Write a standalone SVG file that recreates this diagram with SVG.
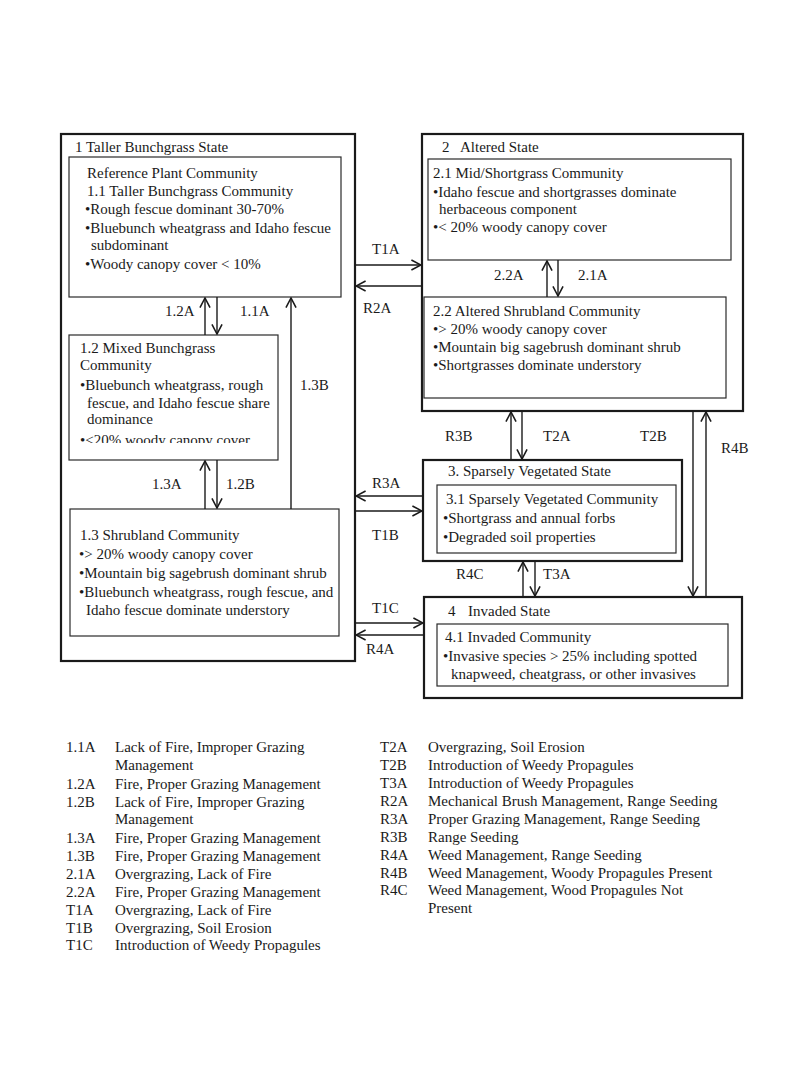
<svg xmlns="http://www.w3.org/2000/svg" width="800" height="1067" viewBox="0 0 800 1067">
<style>
text{font-family:"Liberation Serif","Times New Roman",serif;font-size:15px;fill:#1a1a1a}
.state{fill:none;stroke:#1a1a1a;stroke-width:2.2}
.comm{fill:#fff;stroke:#2a2a2a;stroke-width:1.2}
.con{fill:none;stroke:#1a1a1a;stroke-width:1.4}
</style>
<defs>
<marker id="ah" markerUnits="userSpaceOnUse" markerWidth="12" markerHeight="12" viewBox="0 0 10 10" refX="9" refY="5" orient="auto">
<path d="M1,0.8 L9,5 L1,9.2" fill="none" stroke="#1a1a1a" stroke-width="1.3"/>
</marker>
<clipPath id="clip12"><rect x="69" y="335" width="209" height="108"/></clipPath>
</defs>
<rect width="800" height="1067" fill="#fff"/>

<g id="state1">
<rect class="state" x="61" y="134" width="294" height="527"/>
<text x="75" y="152">1 Taller Bunchgrass State</text>
</g>
<g id="comm11">
<rect class="comm" x="69" y="157" width="272" height="140"/>
<text x="87" y="178">Reference Plant Community</text>
<text x="87" y="196">1.1 Taller Bunchgrass Community</text>
<text x="85" y="214">•Rough fescue dominant 30-70%</text>
<text x="85" y="233">•Bluebunch wheatgrass and Idaho fescue</text>
<text x="91" y="250">subdominant</text>
<text x="85" y="269">•Woody canopy cover &lt; 10%</text>
</g>
<g id="comm12">
<rect class="comm" x="69" y="335" width="209" height="125"/>
<text x="80" y="353">1.2 Mixed Bunchgrass</text>
<text x="80" y="370">Community</text>
<text x="80" y="390">•Bluebunch wheatgrass, rough</text>
<text x="87" y="408">fescue, and Idaho fescue share</text>
<text x="87" y="424">dominance</text>
<text x="80" y="445" clip-path="url(#clip12)">•&lt;20% woody canopy cover</text>
</g>
<g id="comm13">
<rect class="comm" x="70" y="509" width="269" height="127"/>
<text x="80" y="540">1.3 Shrubland Community</text>
<text x="79" y="559">•&gt; 20% woody canopy cover</text>
<text x="79" y="578">•Mountain big sagebrush dominant shrub</text>
<text x="79" y="597">•Bluebunch wheatgrass, rough fescue, and</text>
<text x="86" y="615">Idaho fescue dominate understory</text>
</g>

<g id="state2">
<rect class="state" x="422" y="134" width="321" height="277"/>
<text x="442" y="152">2</text>
<text x="460" y="152">Altered State</text>
</g>
<g id="comm21">
<rect class="comm" x="428" y="159" width="303" height="101"/>
<text x="433" y="178">2.1 Mid/Shortgrass Community</text>
<text x="433" y="197">•Idaho fescue and shortgrasses dominate</text>
<text x="439" y="214">herbaceous component</text>
<text x="433" y="232">•&lt; 20% woody canopy cover</text>
</g>
<g id="comm22">
<rect class="comm" x="424" y="297" width="302" height="101"/>
<text x="433" y="316">2.2 Altered Shrubland Community</text>
<text x="433" y="334">•&gt; 20% woody canopy cover</text>
<text x="433" y="352">•Mountain big sagebrush dominant shrub</text>
<text x="433" y="370">•Shortgrasses dominate understory</text>
</g>

<g id="state3">
<rect class="state" x="423" y="460" width="259" height="101"/>
<text x="448" y="476">3. Sparsely Vegetated State</text>
</g>
<g id="comm31">
<rect class="comm" x="437" y="485" width="239" height="68"/>
<text x="446" y="504">3.1 Sparsely Vegetated Community</text>
<text x="443" y="523">•Shortgrass and annual forbs</text>
<text x="443" y="542">•Degraded soil properties</text>
</g>

<g id="state4">
<rect class="state" x="424" y="597" width="318" height="101"/>
<text x="448" y="616">4</text>
<text x="468" y="616">Invaded State</text>
</g>
<g id="comm41">
<rect class="comm" x="437" y="624" width="291" height="62"/>
<text x="445" y="642">4.1 Invaded Community</text>
<text x="443" y="661">•Invasive species &gt; 25% including spotted</text>
<text x="451" y="679">knapweed, cheatgrass, or other invasives</text>
</g>

<g id="connectors">
<line class="con" x1="205" y1="335" x2="205" y2="298" marker-end="url(#ah)"/>
<line class="con" x1="217" y1="297" x2="217" y2="334" marker-end="url(#ah)"/>
<line class="con" x1="291" y1="509" x2="291" y2="298" marker-end="url(#ah)"/>
<line class="con" x1="205" y1="509" x2="205" y2="461" marker-end="url(#ah)"/>
<line class="con" x1="217" y1="460" x2="217" y2="508" marker-end="url(#ah)"/>
<line class="con" x1="547" y1="297" x2="547" y2="261" marker-end="url(#ah)"/>
<line class="con" x1="558" y1="260" x2="558" y2="296" marker-end="url(#ah)"/>
<line class="con" x1="355" y1="265" x2="421" y2="265" marker-end="url(#ah)"/>
<line class="con" x1="422" y1="286" x2="356" y2="286" marker-end="url(#ah)"/>
<line class="con" x1="511" y1="460" x2="511" y2="412" marker-end="url(#ah)"/>
<line class="con" x1="522" y1="411" x2="522" y2="459" marker-end="url(#ah)"/>
<line class="con" x1="693" y1="411" x2="693" y2="596" marker-end="url(#ah)"/>
<line class="con" x1="706" y1="597" x2="706" y2="412" marker-end="url(#ah)"/>
<line class="con" x1="423" y1="496" x2="356" y2="496" marker-end="url(#ah)"/>
<line class="con" x1="355" y1="511" x2="422" y2="511" marker-end="url(#ah)"/>
<line class="con" x1="523" y1="597" x2="523" y2="562" marker-end="url(#ah)"/>
<line class="con" x1="535" y1="561" x2="535" y2="596" marker-end="url(#ah)"/>
<line class="con" x1="355" y1="623" x2="423" y2="623" marker-end="url(#ah)"/>
<line class="con" x1="424" y1="635" x2="356" y2="635" marker-end="url(#ah)"/>
</g>

<g id="labels">
<text x="165" y="316">1.2A</text>
<text x="240" y="316">1.1A</text>
<text x="300" y="390">1.3B</text>
<text x="152" y="489">1.3A</text>
<text x="226" y="489">1.2B</text>
<text x="372" y="254">T1A</text>
<text x="363" y="313">R2A</text>
<text x="494" y="280">2.2A</text>
<text x="578" y="280">2.1A</text>
<text x="445" y="441">R3B</text>
<text x="543" y="441">T2A</text>
<text x="640" y="441">T2B</text>
<text x="721" y="453">R4B</text>
<text x="372" y="488">R3A</text>
<text x="372" y="540">T1B</text>
<text x="456" y="579">R4C</text>
<text x="543" y="579">T3A</text>
<text x="372" y="613">T1C</text>
<text x="366" y="654">R4A</text>
</g>

<g id="legend">
<text x="66" y="752">1.1A</text><text x="115" y="752">Lack of Fire, Improper Grazing</text>
<text x="115" y="770">Management</text>
<text x="66" y="789">1.2A</text><text x="115" y="789">Fire, Proper Grazing Management</text>
<text x="66" y="807">1.2B</text><text x="115" y="807">Lack of Fire, Improper Grazing</text>
<text x="115" y="824">Management</text>
<text x="66" y="843">1.3A</text><text x="115" y="843">Fire, Proper Grazing Management</text>
<text x="66" y="861">1.3B</text><text x="115" y="861">Fire, Proper Grazing Management</text>
<text x="66" y="879">2.1A</text><text x="115" y="879">Overgrazing, Lack of Fire</text>
<text x="66" y="897">2.2A</text><text x="115" y="897">Fire, Proper Grazing Management</text>
<text x="66" y="915">T1A</text><text x="115" y="915">Overgrazing, Lack of Fire</text>
<text x="66" y="933">T1B</text><text x="115" y="933">Overgrazing, Soil Erosion</text>
<text x="66" y="950">T1C</text><text x="115" y="950">Introduction of Weedy Propagules</text>
<text x="380" y="752">T2A</text><text x="428" y="752">Overgrazing, Soil Erosion</text>
<text x="380" y="770">T2B</text><text x="428" y="770">Introduction of Weedy Propagules</text>
<text x="380" y="788">T3A</text><text x="428" y="788">Introduction of Weedy Propagules</text>
<text x="380" y="806">R2A</text><text x="428" y="806">Mechanical Brush Management, Range Seeding</text>
<text x="380" y="824">R3A</text><text x="428" y="824">Proper Grazing Management, Range Seeding</text>
<text x="380" y="842">R3B</text><text x="428" y="842">Range Seeding</text>
<text x="380" y="860">R4A</text><text x="428" y="860">Weed Management, Range Seeding</text>
<text x="380" y="878">R4B</text><text x="428" y="878">Weed Management, Woody Propagules Present</text>
<text x="380" y="895">R4C</text><text x="428" y="895">Weed Management, Wood Propagules Not</text>
<text x="428" y="913">Present</text>
</g>
</svg>
